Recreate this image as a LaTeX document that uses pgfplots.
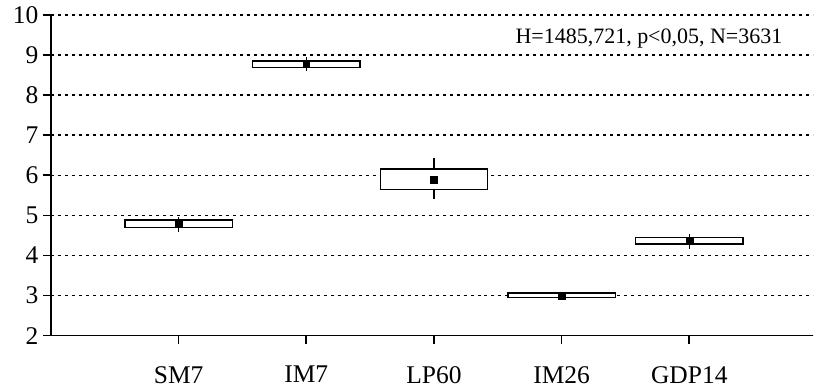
\documentclass[border=0pt]{standalone}
\usepackage{fontspec}
\setmainfont{Liberation Serif}
\usepackage{pgfplots}
\pgfplotsset{compat=1.18}
\usepgfplotslibrary{statistics}
\begin{document}
\begin{tikzpicture}
\begin{axis}[
  scale only axis,
  width=763pt, height=321pt,
  xmin=-1, xmax=4.97,
  ymin=2, ymax=10,
  ytick={2,3,4,5,6,7,8,9,10},
  xtick={0,1,2,3,4},
  xticklabels={SM7,IM7,LP60,IM26,GDP14},
  axis x line=bottom, axis y line=left,
  axis line style={-, line width=1.7pt},
  tick align=outside,
  major tick length=8pt,
  tick style={line width=1.7pt, black},
  ymajorgrids,
  major grid style={line width=1.6pt, dash pattern=on 3pt off 4pt, black},
  tick label style={font=\fontsize{25.5}{30}\selectfont},
  xticklabel style={yshift=-19pt},
  yticklabel style={xshift=-1pt},
  /pgf/number format/assume math mode=true,
  clip=false,
  boxplot/draw direction=y,
  boxplot/box extend=0.84,
  boxplot/whisker extend=0,
  boxplot/every box/.style={draw=black, line width=1.3pt, fill=white},
  boxplot/every whisker/.style={black, line width=1.5pt},
  boxplot/every median/.style={draw=none},
]
\coordinate (ll) at (rel axis cs:0,0);
\coordinate (ur) at (rel axis cs:1,1);
\addplot[boxplot prepared={draw position=0, lower quartile=4.70, upper quartile=4.885, lower whisker=4.58, upper whisker=4.96, median=4.78}] coordinates {};
\addplot[boxplot prepared={draw position=1, lower quartile=8.687, upper quartile=8.855, lower whisker=8.60, upper whisker=8.96, median=8.77}] coordinates {};
\addplot[boxplot prepared={draw position=2, lower quartile=5.64, upper quartile=6.155, lower whisker=5.40, upper whisker=6.43, median=5.89}] coordinates {};
\addplot[boxplot prepared={draw position=3, lower quartile=2.955, upper quartile=3.062, lower whisker=2.92, upper whisker=3.10, median=3.005}] coordinates {};
\addplot[boxplot prepared={draw position=4, lower quartile=4.285, upper quartile=4.45, lower whisker=4.17, upper whisker=4.54, median=4.37}] coordinates {};
\addplot[only marks, mark=square*, mark size=3.4pt, black] coordinates {
(0,4.78) (1,8.77) (2,5.89) (3,3.005) (4,4.37)};
\node[anchor=base east, font=\fontsize{22}{26}\selectfont, inner sep=0pt] at (axis cs:4.73,9.30) {H=1485,721, p<0,05, N=3631};
\end{axis}
\path ([xshift=-51pt,yshift=-53pt]ll) rectangle ([yshift=15pt]ur);
\end{tikzpicture}
\end{document}
